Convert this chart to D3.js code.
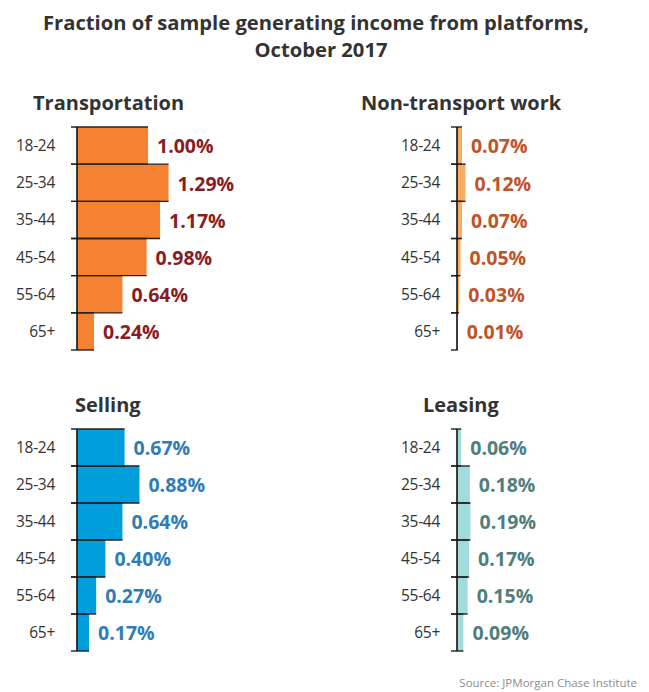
<!DOCTYPE html>
<html>
<head>
<meta charset="utf-8">
<script src="https://cdn.jsdelivr.net/npm/d3@7"></script>
<style>
  html, body { margin: 0; padding: 0; background: #fff; }
  svg { display: block; }
  text { font-family: "Open Sans", "Noto Sans", sans-serif; }
</style>
</head>
<body>
<svg id="chart" width="649" height="692"></svg>
<script>
// Share of sample earning platform income, by age group (percent)
const ageGroups = ["18-24", "25-34", "35-44", "45-54", "55-64", "65+"];
const transportation = [1.00, 1.29, 1.17, 0.98, 0.64, 0.24];
const nonTransport = [0.07, 0.12, 0.07, 0.05, 0.03, 0.01];
const selling = [0.67, 0.88, 0.64, 0.40, 0.27, 0.17];
const leasing = [0.06, 0.18, 0.19, 0.17, 0.15, 0.09];
const panelTitles = ["Transportation", "Non-transport work", "Selling", "Leasing"];

const svg = d3.select("#chart");

// Title
svg.append("text")
  .attr("x", 316).attr("y", 30)
  .attr("text-anchor", "middle")
  .attr("font-size", 20.2).attr("font-weight", 700)
  .attr("fill", "#333")
  .text("Fraction of sample generating income from platforms,");
svg.append("text")
  .attr("x", 321).attr("y", 57)
  .attr("text-anchor", "middle")
  .attr("font-size", 20.2).attr("font-weight", 700)
  .attr("fill", "#333")
  .text("October 2017");

// One shared value scale so the panels are comparable
const x = d3.scaleLinear().domain([0, 1.3]).range([0, 92.3]);

const panels = [
  { title: panelTitles[0], values: transportation, axisX: 77, top: 127, bottom: 350, titleX: 33, titleY: 110, labelGap: 22, bar: "#f48232", label: "#881c22" },
  { title: panelTitles[1], values: nonTransport, axisX: 457, top: 127, bottom: 350, titleX: 361, titleY: 110, labelGap: 17, bar: "#f9ad62", label: "#bf5329" },
  { title: panelTitles[2], values: selling, axisX: 77, top: 429, bottom: 651, titleX: 75, titleY: 412, labelGap: 22, bar: "#009fdb", label: "#2f7db6" },
  { title: panelTitles[3], values: leasing, axisX: 457, top: 429, bottom: 651, titleX: 423, titleY: 412, labelGap: 17, bar: "#a3dadb", label: "#4f7e7b" }
];

panels.forEach(p => {
  const g = svg.append("g");
  const data = ageGroups.map((a, i) => ({ age: a, v: p.values[i] }));
  const y = d3.scaleBand().domain(ageGroups).range([p.top, p.bottom]).paddingInner(0).paddingOuter(0);
  const ax = p.axisX;

  g.append("text")
    .attr("x", p.titleX).attr("y", p.titleY)
    .attr("font-size", 20).attr("font-weight", 700)
    .attr("fill", "#333")
    .text(p.title);

  // bars
  g.selectAll("rect.bar").data(data).join("rect")
    .attr("class", "bar")
    .attr("x", ax)
    .attr("y", d => y(d.age))
    .attr("width", d => x(d.v))
    .attr("height", y.bandwidth())
    .attr("fill", p.bar);

  // separator rules at each bar's top and bottom, extending out of the tick
  const rules = [];
  data.forEach(d => {
    rules.push({ y: y(d.age), w: x(d.v) });
    rules.push({ y: y(d.age) + y.bandwidth(), w: x(d.v) });
  });
  g.selectAll("line.rule").data(rules).join("line")
    .attr("class", "rule")
    .attr("x1", ax - 6).attr("x2", d => ax + Math.max(d.w, 0))
    .attr("y1", d => d.y).attr("y2", d => d.y)
    .attr("stroke", "#222").attr("stroke-width", 1.4);

  // vertical axis
  g.append("line")
    .attr("x1", ax).attr("x2", ax)
    .attr("y1", p.top).attr("y2", p.bottom)
    .attr("stroke", "#111").attr("stroke-width", 1.6);

  // category labels
  g.selectAll("text.cat").data(data).join("text")
    .attr("class", "cat")
    .attr("x", ax - p.labelGap)
    .attr("y", d => y(d.age) + y.bandwidth() / 2)
    .attr("dy", "0.35em")
    .attr("text-anchor", "end")
    .attr("font-size", 15.5)
    .attr("letter-spacing", -0.3)
    .attr("fill", "#333")
    .text(d => d.age);

  // value labels
  g.selectAll("text.val").data(data).join("text")
    .attr("class", "val")
    .attr("x", d => ax + x(d.v) + 9)
    .attr("y", d => y(d.age) + y.bandwidth() / 2 + 1)
    .attr("dy", "0.35em")
    .attr("font-size", 19.5).attr("font-weight", 700)
    .attr("fill", p.label)
    .text(d => d.v.toFixed(2) + "%");
});

// Source note
svg.append("text")
  .attr("x", 637).attr("y", 687)
  .attr("text-anchor", "end")
  .attr("font-size", 11.5)
  .attr("fill", "#8c8c8c")
  .text("Source: JPMorgan Chase Institute");
</script>
</body>
</html>
